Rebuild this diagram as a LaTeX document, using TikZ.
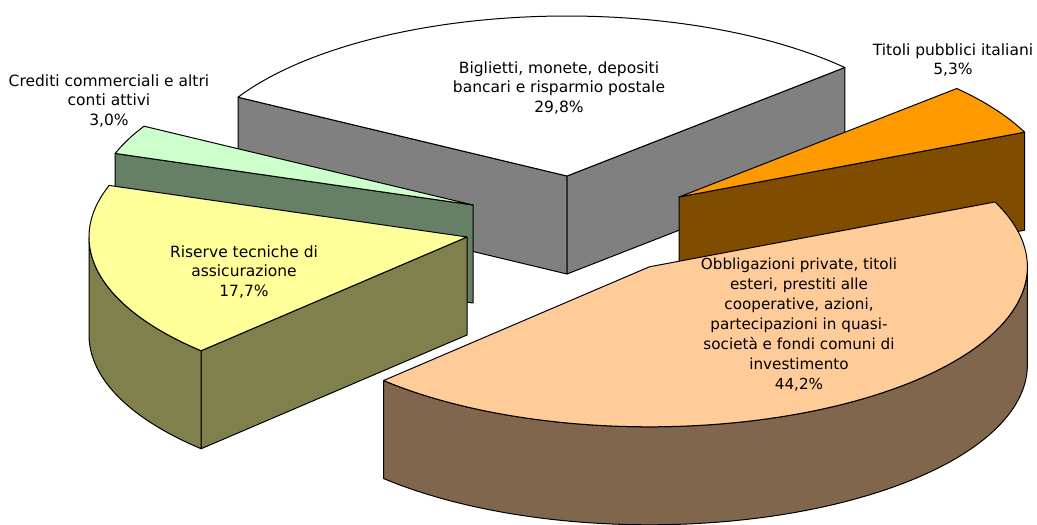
\documentclass[tikz,border=0pt]{standalone}
\usepackage{fontspec}
\setmainfont{DejaVu Sans}
\definecolor{bigtop}{HTML}{FFFFFF}
\definecolor{bigside}{HTML}{808080}
\definecolor{tittop}{HTML}{FF9900}
\definecolor{titside}{HTML}{804C00}
\definecolor{peatop}{HTML}{FFCC99}
\definecolor{peaside}{HTML}{80664D}
\definecolor{yeltop}{HTML}{FFFF99}
\definecolor{yelside}{HTML}{80804D}
\definecolor{gretop}{HTML}{CCFFCC}
\definecolor{greside}{HTML}{668066}
\begin{document}
\begin{tikzpicture}[x=1pt,y=-1pt,
  edge/.style={draw=black,line width=1pt,line join=round},
  lbl/.style={align=center,font=\fontsize{15.5}{19.5}\selectfont,inner sep=0pt,text=black}]
\useasboundingbox (0,0) rectangle (1037,525);
\def\R{378}\def\r{160}\def\H{98}
% ---------- Biglietti (back) ----------
\def\ax{567}\def\ay{176}
\coordinate (bA) at (\ax,\ay);
\coordinate (bAd) at (\ax,\ay+\H);
\coordinate (bL) at ({\ax+\R*cos(150.5)},{\ay-\r*sin(150.5)});
\coordinate (bLd) at ({\ax+\R*cos(150.5)},{\ay+\H-\r*sin(150.5)});
\coordinate (bR) at ({\ax+\R*cos(42.7)},{\ay-\r*sin(42.7)});
\coordinate (bRd) at ({\ax+\R*cos(42.7)},{\ay+\H-\r*sin(42.7)});
\path[edge,fill=bigside] (bL) -- (bA) -- (bAd) -- (bLd) -- cycle;
\path[edge,fill=bigside] (bA) -- (bR) -- (bRd) -- (bAd) -- cycle;
\path[edge,fill=bigtop] (bA) -- plot[domain=42.7:150.5,samples=100] ({\ax+\R*cos(\x)},{\ay-\r*sin(\x)}) -- cycle;
% ---------- Crediti (green) ----------
\def\ax{473}\def\ay{205}
\coordinate (gA) at (\ax,\ay);
\coordinate (gAd) at (\ax,\ay+\H);
\coordinate (gL) at ({\ax+\R*cos(161.2)},{\ay-\r*sin(161.2)});
\coordinate (gLd) at ({\ax+\R*cos(161.2)},{\ay+\H-\r*sin(161.2)});
\path[edge,fill=greside] (gL) -- (gA) -- (gAd) -- (gLd) -- cycle;
\path[edge,fill=gretop] (gA) -- plot[domain=150.5:161.2,samples=30] ({\ax+\R*cos(\x)},{\ay-\r*sin(\x)}) -- cycle;
% ---------- Riserve (yellow) ----------
\def\ax{467}\def\ay{237}
\coordinate (yA) at (\ax,\ay);
\coordinate (yAd) at (\ax,\ay+\H);
\coordinate (yE) at ({\ax+\R*cos(225.3)},{\ay-\r*sin(225.3)});
\coordinate (yEd) at ({\ax+\R*cos(225.3)},{\ay+\H-\r*sin(225.3)});
\path[edge,fill=yelside] (yA) -- (yE) -- (yEd) -- (yAd) -- cycle;
\path[edge,fill=yelside] plot[domain=180:225.3,samples=60] ({\ax+\R*cos(\x)},{\ay-\r*sin(\x)}) -- plot[domain=225.3:180,samples=60] ({\ax+\R*cos(\x)},{\ay+\H-\r*sin(\x)}) -- cycle;
\path[edge,fill=yeltop] (yA) -- plot[domain=161.2:225.3,samples=80] ({\ax+\R*cos(\x)},{\ay-\r*sin(\x)}) -- cycle;
% ---------- Titoli (orange) ----------
\def\ax{679}\def\ay{197}
\coordinate (tA) at (\ax,\ay);
\coordinate (tAd) at (\ax,\ay+\H);
\coordinate (tE) at ({\ax+\R*cos(23.9)},{\ay-\r*sin(23.9)});
\coordinate (tEd) at ({\ax+\R*cos(23.9)},{\ay+\H-\r*sin(23.9)});
\path[edge,fill=titside] (tA) -- (tE) -- (tEd) -- (tAd) -- cycle;
\path[edge,fill=tittop] (tA) -- plot[domain=23.9:42.7,samples=40] ({\ax+\R*cos(\x)},{\ay-\r*sin(\x)}) -- cycle;
% ---------- Obbligazioni (peach, front) ----------
\def\ax{649.4}\def\ay{266.8}
\coordinate (pA) at (\ax,\ay);
\path[edge,fill=peaside] plot[domain=225.3:360,samples=120] ({\ax+\R*cos(\x)},{\ay-\r*sin(\x)}) -- plot[domain=360:225.3,samples=120] ({\ax+\R*cos(\x)},{\ay+\H-\r*sin(\x)}) -- cycle;
\path[edge,fill=peatop] (pA) -- plot[domain=225.3:383.9,samples=150] ({\ax+\R*cos(\x)},{\ay-\r*sin(\x)}) -- cycle;
% ---------- labels ----------
\node[lbl] (tBig) at (559,88) {Biglietti, monete, depositi\\bancari e risparmio postale\\29,8\%};
\node[lbl] (tTit) at (953,60) {Titoli pubblici italiani\\5,3\%};
\node[lbl] (tCre) at (109,101) {Crediti commerciali e altri\\conti attivi\\3,0\%};
\node[lbl] (tRis) at (244,272) {Riserve tecniche di\\assicurazione\\17,7\%};
\node[lbl,font=\fontsize{15.2}{20}\selectfont] (tObb) at (799,325) {Obbligazioni private, titoli\\esteri, prestiti alle\\cooperative, azioni,\\partecipazioni in quasi-\\società e fondi comuni di\\investimento\\44,2\%};
\end{tikzpicture}
\end{document}
